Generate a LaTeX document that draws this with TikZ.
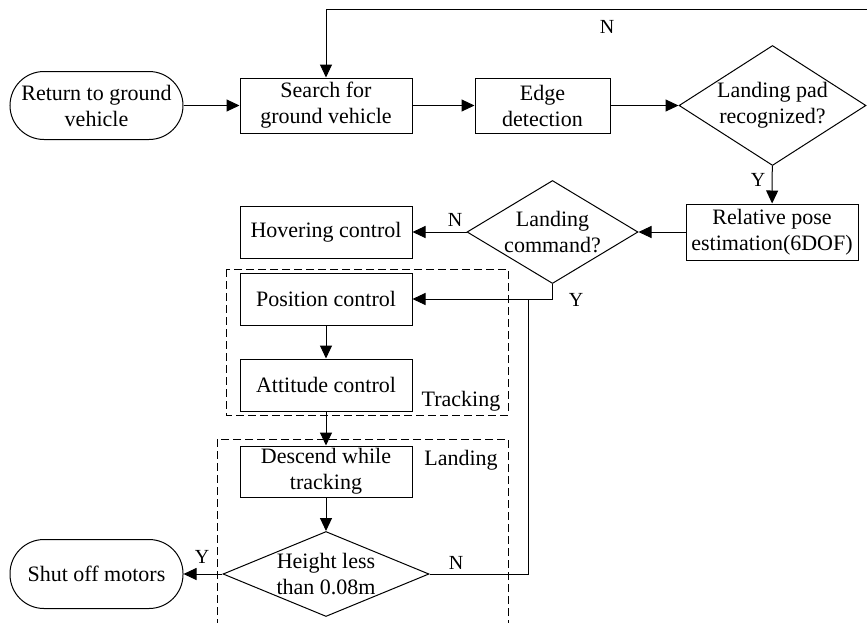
\documentclass[tikz,border=0pt]{standalone}
\usepackage{fontspec}
\setmainfont{Liberation Serif}
\usetikzlibrary{arrows.meta,shapes.geometric}

\begin{document}
\begin{tikzpicture}[x=1pt, y=-1pt, >={Triangle[length=13pt,width=12pt]},
  line width=1pt, font=\fontsize{22}{26}\selectfont,
  box/.style={draw, rectangle, align=center, inner sep=2pt, minimum width=172pt, minimum height=52pt},
  term/.style={draw, rectangle, rounded corners=34pt, align=center, minimum width=173pt, minimum height=68pt},
  decision/.style={draw, diamond, aspect=2, inner sep=-8pt, align=center},
  group/.style={draw, dash pattern=on 8pt off 4pt, line width=0.8pt},
  yn/.style={inner sep=0pt, font=\fontsize{20}{22}\selectfont}]

  % Keep the visible frame of the picture
  \clip (0,0) rectangle (867,622);

  % Dashed frames of the two phases
  \draw[group] (226,269) rectangle (508,415);
  \draw[group] (217,439) rectangle (508,640);
  \node[anchor=base] (trk) at (461,406) {Tracking};
  \node[anchor=base] (lnd) at (461,465) {Landing};

  % Search phase
  \node[term] (ret) at (96.5,105.5) {Return to ground\\vehicle};
  \node[box, minimum height=55pt] (search) at (326,105.5) {Search for\\ground vehicle};
  \node[box, minimum width=135pt, minimum height=55pt] (edge) at (542.5,105.5) {Edge\\detection};
  \node[decision, minimum width=187pt, minimum height=120pt] (pad) at (772.5,105.5) {Landing pad\\recognized?};
  \node[box, minimum height=56pt] (pose) at (772,232) {Relative pose\\estimation(6DOF)};
  \node[decision, minimum width=171pt, minimum height=103pt] (cmd) at (552.5,232) {Landing\\command?};
  \node[box] (hover) at (326,232) {Hovering control};

  % Tracking and landing
  \node[box] (pos) at (326,299) {Position control};
  \node[box] (att) at (326,385) {Attitude control};
  \node[box, minimum height=51pt] (desc) at (326,471.5) {Descend while\\tracking};
  \node[decision, minimum width=206pt, minimum height=85pt] (hgt) at (326,574) {Height less\\than 0.08m};
  \node[term, minimum height=69pt] (shut) at (96.5,574) {Shut off motors};

  % Connectors
  \draw[->] (ret) -- (search);
  \draw[->] (search) -- (edge);
  \draw[->] (edge) -- (pad);
  \draw[->] (pad) -- (pose);
  \draw[->] (pose) -- (cmd);
  \draw[->] (cmd) -- (hover);
  \draw[->] (cmd.south) |- (pos.east);
  \draw[->] (pos) -- (att);
  \draw[->] (att) -- (desc);
  \draw[->] (desc) -- (hgt);
  \draw[->] (hgt) -- (shut);
  \coordinate (join) at (528,299);
  \draw (hgt.east) -| (join);
  \coordinate (loop) at (885,9);
  \draw[->] (pad.east) -| (loop) -| (search.north);

  % Y/N labels
  \node[yn] (nloop) at (607,27) {N};
  \node[yn] (ypad) at (758,180) {Y};
  \node[yn] (ncmd) at (455,220) {N};
  \node[yn] (ycmd) at (576,300) {Y};
  \node[yn] (yhgt) at (202,557) {Y};
  \node[yn] (nhgt) at (456,563) {N};
\end{tikzpicture}
\end{document}
